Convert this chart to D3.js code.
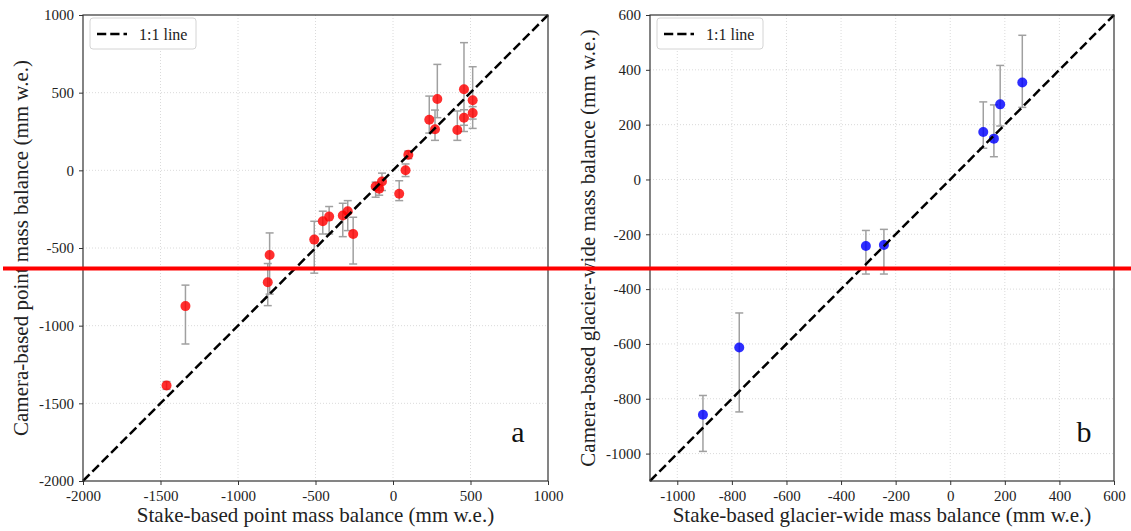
<!DOCTYPE html>
<html>
<head>
<meta charset="utf-8">
<script src="https://cdn.jsdelivr.net/npm/d3@7"></script>
<style>
  html, body { margin: 0; padding: 0; background: #fff; }
  svg { display: block; font-family: "Liberation Serif", "Times New Roman", serif; }
</style>
</head>
<body>
<svg id="svg" width="1131" height="531"></svg>
<script>
// panel a: point mass balance (mm w.e.)
const pointStake = [-1461, -1339, -808, -796, -508, -453, -412, -324, -292, -257,
  -112, -89, -71, 40, 81, 99, 234, 271, 286, 415, 458, 458, 514, 514]
const pointCamera = [-1385, -874, -720, -545, -446, -328, -298, -291, -263, -410,
  -104, -119, -72, -151, 0, 100, 326, 264, 459, 260, 522, 339, 451, 369]
const pointLow = [-1410, -1118, -871, -797, -662, -410, -410, -427, -388, -603,
  -173, -160, -130, -195, -40, 75, 240, 193, 339, 193, 250, 290, 270, 330]
const pointHigh = [-1360, -739, -600, -403, -328, -263, -233, -212, -195, -302,
  -76, -90, -18, -67, 41, 125, 478, 388, 682, 382, 822, 390, 667, 410]

// panel b: glacier-wide mass balance (mm w.e.)
const wideStake = [-906, -773, -309, -243, 121, 160, 183, 264]
const wideCamera = [-858, -613, -243, -239, 173, 149, 274, 354]
const wideLow = [-992, -848, -345, -345, 114, 83, 195, 263]
const wideHigh = [-788, -487, -186, -182, 283, 272, 416, 526]

const ticksA = [-2000, -1500, -1000, -500, 0, 500, 1000]
const ticksB = [-1000, -800, -600, -400, -200, 0, 200, 400, 600]

const $svg = d3.select('#svg')

const drawPanel = ({ left, right, top, bottom, domain, ticks, xs, ys, lo, hi,
  color, xLabel, yLabel, yLabelX, letter }) => {
  const x = d3.scaleLinear().domain(domain).range([left, right])
  const y = d3.scaleLinear().domain(domain).range([bottom, top])
  const $g = $svg.append('g')

  // grid
  const inner = ticks.filter(t => t > domain[0] && t < domain[1])
  $g.selectAll('.gx').data(inner).join('line')
    .attr('x1', d => x(d)).attr('x2', d => x(d))
    .attr('y1', top).attr('y2', bottom)
    .attr('stroke', '#d0d0d0').attr('stroke-width', 0.8)
    .attr('stroke-dasharray', '1,2')
  $g.selectAll('.gy').data(inner).join('line')
    .attr('y1', d => y(d)).attr('y2', d => y(d))
    .attr('x1', left).attr('x2', right)
    .attr('stroke', '#d0d0d0').attr('stroke-width', 0.8)
    .attr('stroke-dasharray', '1,2')

  // axes
  const fmt = d => d < 0 ? '-' + Math.abs(d) : String(d)
  const xAxis = d3.axisBottom(x).tickValues(ticks).tickSize(4).tickPadding(5).tickFormat(fmt)
  const yAxis = d3.axisLeft(y).tickValues(ticks).tickSize(4).tickPadding(5).tickFormat(fmt)
  const $xa = $g.append('g').attr('transform', `translate(0,${bottom})`).call(xAxis)
  const $ya = $g.append('g').attr('transform', `translate(${left},0)`).call(yAxis)
  ;[$xa, $ya].forEach($a => {
    $a.attr('font-family', '"Liberation Serif", serif').attr('font-size', 15)
    $a.select('.domain').remove()
    $a.selectAll('line').attr('stroke', '#333')
    $a.selectAll('text').attr('fill', '#222')
  })

  // error bars
  const idx = d3.range(xs.length)
  const $err = $g.append('g').attr('stroke', '#a0a0a0').attr('stroke-width', 1.5)
  $err.selectAll('.v').data(idx).join('line')
    .attr('x1', i => x(xs[i])).attr('x2', i => x(xs[i]))
    .attr('y1', i => y(lo[i])).attr('y2', i => y(hi[i]))
  $err.selectAll('.c1').data(idx).join('line')
    .attr('x1', i => x(xs[i]) - 4).attr('x2', i => x(xs[i]) + 4)
    .attr('y1', i => y(lo[i])).attr('y2', i => y(lo[i]))
  $err.selectAll('.c2').data(idx).join('line')
    .attr('x1', i => x(xs[i]) - 4).attr('x2', i => x(xs[i]) + 4)
    .attr('y1', i => y(hi[i])).attr('y2', i => y(hi[i]))

  // points
  $g.append('g').selectAll('circle').data(idx).join('circle')
    .attr('cx', i => x(xs[i])).attr('cy', i => y(ys[i]))
    .attr('r', 5)
    .attr('fill', color).attr('fill-opacity', 0.82)

  // 1:1 line
  $g.append('line')
    .attr('x1', x(domain[0])).attr('y1', y(domain[0]))
    .attr('x2', x(domain[1])).attr('y2', y(domain[1]))
    .attr('stroke', '#000').attr('stroke-width', 2.5)
    .attr('stroke-dasharray', '9.25,4')

  // frame
  $g.append('rect')
    .attr('x', left).attr('y', top)
    .attr('width', right - left).attr('height', bottom - top)
    .attr('fill', 'none').attr('stroke', '#333').attr('stroke-width', 1.2)

  // legend
  const $leg = $g.append('g').attr('transform', `translate(${left + 7},18)`)
  $leg.append('rect')
    .attr('width', 106).attr('height', 31).attr('rx', 3)
    .attr('fill', '#fff').attr('stroke', '#d4d4d4')
  $leg.append('line')
    .attr('x1', 7).attr('x2', 37).attr('y1', 16).attr('y2', 16)
    .attr('stroke', '#000').attr('stroke-width', 2.5)
    .attr('stroke-dasharray', '9.25,4')
  $leg.append('text')
    .attr('x', 49).attr('y', 21.5)
    .attr('fill', '#222').style('font-size', '16px')
    .text('1:1 line')

  // labels
  $g.append('text')
    .attr('x', (left + right) / 2).attr('y', 522)
    .attr('text-anchor', 'middle').attr('fill', '#222')
    .style('font-size', '21px')
    .text(xLabel)
  $g.append('text')
    .attr('transform', `translate(${yLabelX},${(top + bottom) / 2}) rotate(-90)`)
    .attr('text-anchor', 'middle').attr('fill', '#222')
    .style('font-size', '21px')
    .text(yLabel)
  $g.append('text')
    .attr('x', right - 30).attr('y', 442)
    .attr('text-anchor', 'middle').attr('fill', '#111')
    .style('font-size', '30px')
    .text(letter)
}

drawPanel({
  left: 83, right: 548, top: 15, bottom: 481,
  domain: [-2000, 1000], ticks: ticksA,
  xs: pointStake, ys: pointCamera, lo: pointLow, hi: pointHigh,
  color: '#ff0000',
  xLabel: 'Stake-based point mass balance (mm w.e.)',
  yLabel: 'Camera-based point mass balance (mm w.e.)',
  yLabelX: 28, letter: 'a'
})

drawPanel({
  left: 650, right: 1114, top: 15, bottom: 481,
  domain: [-1100, 600], ticks: ticksB,
  xs: wideStake, ys: wideCamera, lo: wideLow, hi: wideHigh,
  color: '#0000ff',
  xLabel: 'Stake-based glacier-wide mass balance (mm w.e.)',
  yLabel: 'Camera-based glacier-wide mass balance (mm w.e.)',
  yLabelX: 595, letter: 'b'
})

// red horizontal marker across the figure
$svg.append('line')
  .attr('x1', 3).attr('x2', 1131)
  .attr('y1', 268.5).attr('y2', 268.5)
  .attr('stroke', '#ff0000').attr('stroke-width', 4)
</script>
</body>
</html>
